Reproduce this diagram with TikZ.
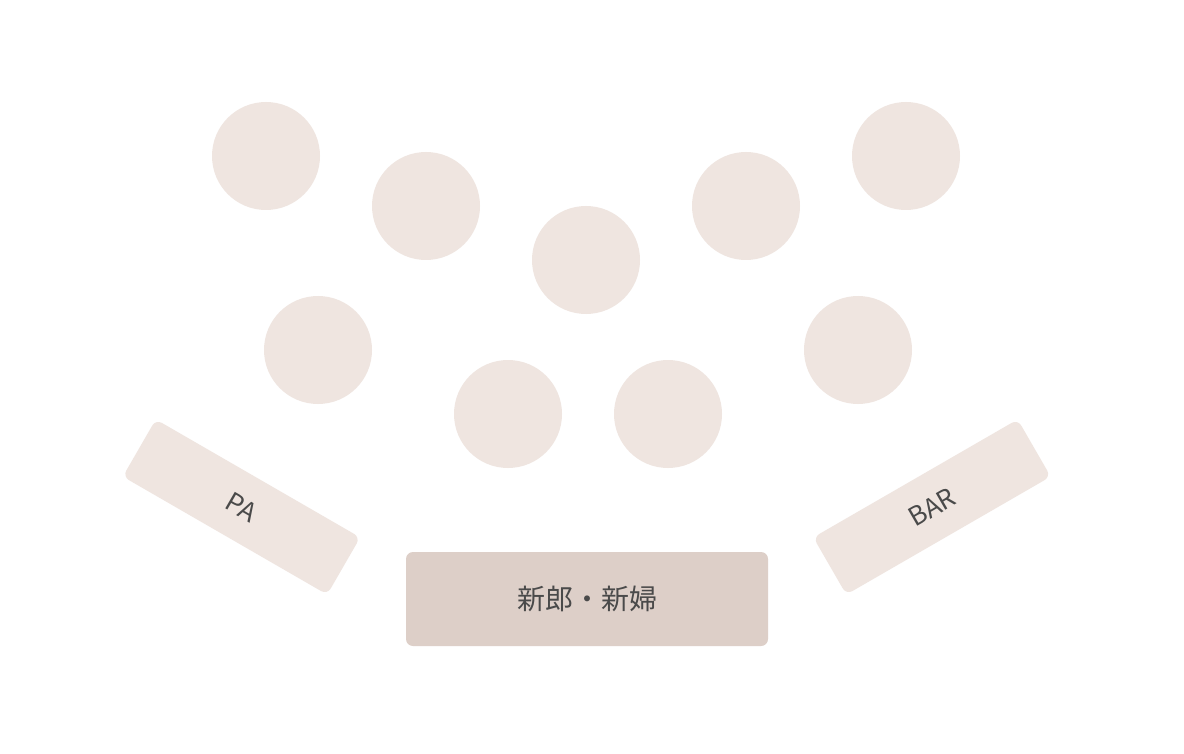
\documentclass[tikz,border=0pt]{standalone}
\usepackage{fontspec}
\setmainfont{Noto Sans CJK JP}
\newfontfamily\cjk{Noto Sans CJK JP}
\definecolor{tablecol}{HTML}{EFE5E0}
\definecolor{stagecol}{HTML}{DDCFC8}
\definecolor{txtcol}{HTML}{4A4A4A}
\begin{document}
\begin{tikzpicture}[x=1pt,y=-1pt,
  roundtable/.style={circle,fill=tablecol,minimum size=108pt,inner sep=0pt},
  sidebox/.style={rectangle,rounded corners=7pt,fill=tablecol,minimum width=236pt,minimum height=66pt,inner sep=0pt,text=txtcol,font=\cjk\fontsize{26}{31}\selectfont},
  stagebox/.style={rectangle,rounded corners=7pt,fill=stagecol,minimum width=362pt,minimum height=94pt,inner sep=0pt,text=txtcol,font=\cjk\fontsize{28}{33}\selectfont}]
\useasboundingbox[fill=white] (0,0) rectangle (1184,754);
\node[roundtable] (t1) at (266,156) {};
\node[roundtable] (t2) at (426,206) {};
\node[roundtable] (t3) at (586,260) {};
\node[roundtable] (t4) at (746,206) {};
\node[roundtable] (t5) at (906,156) {};
\node[roundtable] (t6) at (318,350) {};
\node[roundtable] (t7) at (508,414) {};
\node[roundtable] (t8) at (668,414) {};
\node[roundtable] (t9) at (858,350) {};
\node[sidebox,rotate=-30] (pa) at (241.5,507) {PA};
\node[sidebox,rotate=30] (bar) at (932,507) {BAR};
\node[stagebox] (stage) at (587,599) {新郎・新婦};
\end{tikzpicture}
\end{document}
